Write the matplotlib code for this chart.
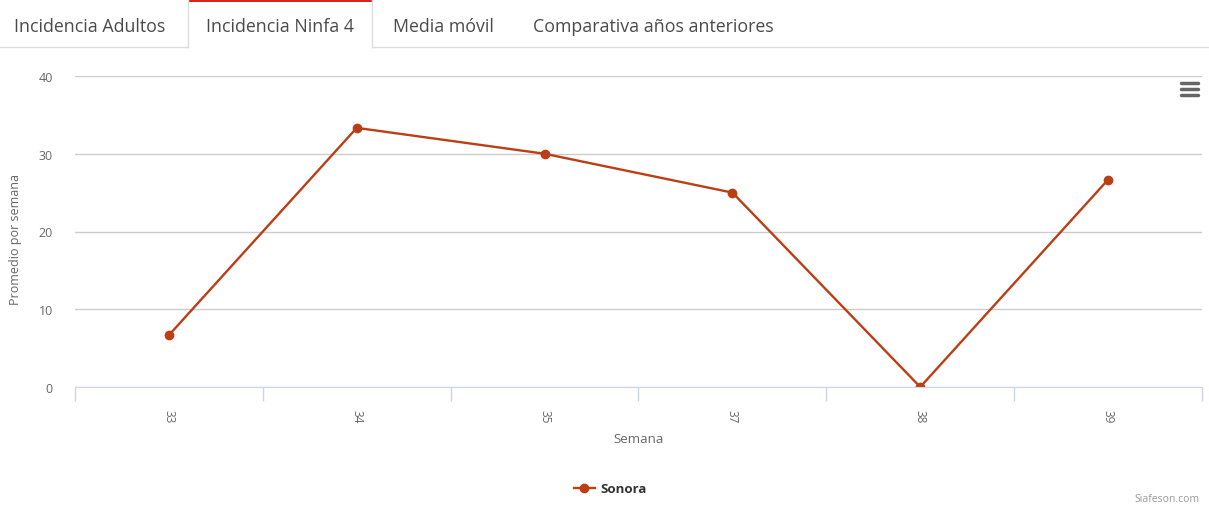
import matplotlib.pyplot as plt
from matplotlib.patches import Rectangle
from matplotlib.lines import Line2D

# data
semanas = ['33', '34', '35', '37', '38', '39']
sonora = [6.67, 33.33, 30.0, 25.0, 0.0, 26.67]
tabs = ['Incidencia Adultos', 'Incidencia Ninfa 4', 'Media móvil', 'Comparativa años anteriores']
tab_x = [14, 206, 393, 533]

W, H = 1209, 510
LINE_COLOR = '#bb3e14'
TEXT_COLOR = '#666666'

plt.rcParams['font.family'] = ['Open Sans', 'DejaVu Sans']

fig = plt.figure(figsize=(W / 100, H / 100), dpi=100)


def px(x, y):
    """pixel coords (top-left origin) -> figure fraction"""
    return x / W, 1 - y / H


# tab strip
fig.add_artist(Line2D([0, 188 / W], [1 - 48 / H] * 2, color='#dddddd', lw=1))
fig.add_artist(Line2D([372 / W, 1], [1 - 48 / H] * 2, color='#dddddd', lw=1))
fig.add_artist(Line2D([188 / W] * 2, [1 - 48 / H, 1], color='#dddddd', lw=1))
fig.add_artist(Line2D([372 / W] * 2, [1 - 48 / H, 1], color='#dddddd', lw=1))
fig.add_artist(Rectangle(px(188, 3), 184 / W, 3 / H, color='#d9261c', lw=0))
for label, x in zip(tabs, tab_x):
    fx, fy = px(x, 27)
    fig.text(fx, fy, label, fontsize=12.8, color='#4a4a4a', va='center', ha='left')

# chart area
left, right, top, bottom = 75, 1202, 77, 388
ax = fig.add_axes([left / W, 1 - bottom / H, (right - left) / W, (bottom - top) / H])

xs = list(range(len(semanas)))
ax.plot(xs, sonora, color=LINE_COLOR, lw=1.7, marker='o', markersize=6, label='Sonora')

ax.set_xlim(-0.5, len(semanas) - 0.5)
ax.set_ylim(0, 40)
ax.set_yticks([0, 10, 20, 30, 40])
ax.grid(axis='y', color='#cccccc', lw=1)
ax.set_axisbelow(True)

ax.set_xticks(xs)
ax.set_xticklabels(semanas, rotation=-90, fontsize=8.5, color=TEXT_COLOR)
ax.tick_params(axis='x', length=0, pad=16)
ax.set_xticks([i - 0.5 for i in range(len(semanas) + 1)], minor=True)
ax.tick_params(axis='x', which='minor', length=10, color='#ccd6eb', width=1)
ax.tick_params(axis='y', length=0, labelsize=9, labelcolor=TEXT_COLOR, pad=16)
for lab in ax.get_yticklabels():
    lab.set_ha('right')

for s in ['top', 'right', 'left']:
    ax.spines[s].set_visible(False)
ax.spines['bottom'].set_color('#ccd6eb')

ax.set_xlabel('Semana', fontsize=9.5, color=TEXT_COLOR, labelpad=7)
ax.set_ylabel('Promedio por semana', fontsize=9, color=TEXT_COLOR)
ax.yaxis.set_label_coords((22 - left) / (right - left), (388 - 240) / (bottom - top))

# legend
leg = fig.legend(loc='center', bbox_to_anchor=px(610, 490), frameon=False,
                 fontsize=9.5, handlelength=1.6, handletextpad=0.4)
for t in leg.get_texts():
    t.set_fontweight('bold')
    t.set_color('#333333')

# credits
fig.text(*px(1200, 505), 'Siafeson.com', fontsize=7.5, color='#999999', ha='right', va='bottom')

# menu icon
for yy in [84, 90, 96]:
    fig.add_artist(Line2D([1181 / W, 1198 / W], [1 - yy / H] * 2, color='#666666', lw=2.5,
                          solid_capstyle='round'))

fig.savefig('out.png', dpi=100)
